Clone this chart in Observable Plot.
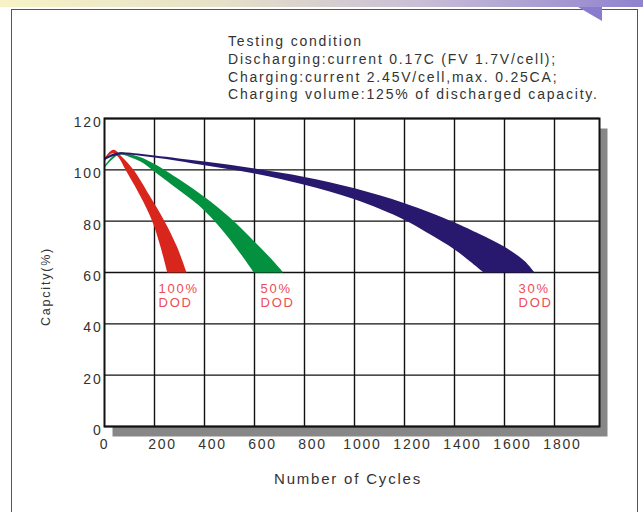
<!DOCTYPE html>
<html>
<head>
<meta charset="utf-8">
<script src="https://cdn.jsdelivr.net/npm/d3@7"></script>
<script src="https://cdn.jsdelivr.net/npm/@observablehq/plot@0.6"></script>
<style>
  html, body { margin: 0; padding: 0; background: #fff; }
  #wrap { position: relative; width: 643px; height: 512px; overflow: hidden; background: #fff; font-family: "Liberation Sans", Arial, sans-serif; }
  #topbar { position: absolute; left: 0; top: 0; width: 643px; height: 7px;
    background: linear-gradient(90deg, #f7f3c6 0%, #e6e0c8 35%, #c9bfd6 65%, #8f82cf 100%); }
  #tab { position: absolute; left: 578px; top: 7px; width: 24px; height: 14px; background: #8a7ccc;
    clip-path: polygon(0 0, 100% 0, 100% 100%); }
  #panel { position: absolute; left: 11px; top: 9px; width: 627px; height: 510px; border: 1.5px solid #555; box-sizing: border-box; }
  #title { position: absolute; left: 228px; top: 33px; font-size: 14px; line-height: 17.8px; color: #333; letter-spacing: 1.8px; white-space: pre; }
  #chart { position: absolute; left: 0; top: 0; }
</style>
</head>
<body>
<div id="wrap">
  <div id="topbar"></div>
  <div id="panel"></div>
  <div id="tab"></div>
  <div id="title"></div>
  <div id="chart"></div>
</div>
<script>
// ---- data ----
const titleLines = [
  "Testing condition",
  "Discharging:current 0.17C (FV 1.7V/cell);",
  "Charging:current 2.45V/cell,max. 0.25CA;",
  "Charging volume:125% of discharged capacity."
];
const xLabel = "Number of Cycles";
const yLabel = "Capcity(%)";
const xTicks = [0, 200, 400, 600, 800, 1000, 1200, 1400, 1600, 1800];
const yTicks = [0, 20, 40, 60, 80, 100, 120];

// Outlines of each band: upper edge going right, then lower edge coming back
// (the two points on the 60% line are listed twice to keep those corners sharp).
// 100% DOD (red)
const redX = [0, 15, 37, 70, 116, 180, 240, 290, 328, 328,   251, 251, 224, 191, 142, 84, 55, 35, 15, 0];
const redY = [104.2, 106.5, 107.8, 105, 100, 90, 80, 70, 60, 60,   60, 60, 70, 80, 90, 100, 105, 106.5, 105.5, 103];
// 50% DOD (green)
const greenX = [0, 30, 60, 100, 144, 200, 300, 400, 500, 600, 660, 715, 715,   597, 597, 500, 400, 300, 200, 144, 100, 60, 30, 0];
const greenY = [101.6, 105, 106.8, 106.2, 104.9, 102.3, 96.2, 89.4, 81.5, 72, 66, 60, 60,   60, 60, 73.1, 84.1, 91.9, 99.3, 103.2, 105, 106, 104, 100.8];
// 30% DOD (blue)
const blueX = [0, 40, 80, 200, 400, 600, 800, 1000, 1200, 1400, 1500, 1600, 1680, 1720, 1720,   1517, 1517, 1460, 1400, 1300, 1200, 1000, 800, 600, 400, 200, 80, 40, 0];
const blueY = [104.8, 106.5, 106.8, 105.6, 103.2, 100.5, 97.2, 92.8, 87.0, 79.5, 75, 70, 64.5, 60, 60,   60, 60, 64.5, 69, 75, 80.5, 88.5, 94.2, 98.6, 101.8, 104.8, 106, 105.5, 103.8];

const dodLabels = ["100%\nDOD", "50%\nDOD", "30%\nDOD"];
const dodX = [216, 624, 1656];
const dodY = [55.7, 55.7, 55.7];

// ---- build ----
document.getElementById("title").textContent = titleLines.join("\n");

const pts = (xs, ys) => xs.map((x, i) => ({x, y: ys[i]}));
const red = pts(redX, redY);
const green = pts(greenX, greenY);
const blue = pts(blueX, blueY);
const labels = dodLabels.map((t, i) => ({t, x: dodX[i], y: dodY[i]}));

const chart = Plot.plot({
  width: 643,
  height: 512,
  marginLeft: 104,
  marginRight: 44,
  marginTop: 118,
  marginBottom: 86,
  x: {domain: [0, 1980]},
  y: {domain: [0, 120]},
  style: {fontFamily: "'Liberation Sans', Arial, sans-serif", fontSize: "14px", color: "#333", background: "transparent", overflow: "visible", letterSpacing: "1.8px"},
  marks: [
    Plot.frame({fill: "#878787", dx: 8, dy: 10}),
    Plot.frame({fill: "#fff"}),
    Plot.ruleX(xTicks.slice(1), {stroke: "#111", strokeWidth: 1.4}),
    Plot.ruleY(yTicks, {stroke: "#111", strokeWidth: 1.4}),
    Plot.line(red, {x: "x", y: "y", fill: "#d9261c", stroke: "none", curve: "catmull-rom"}),
    Plot.line(green, {x: "x", y: "y", fill: "#04913f", stroke: "none", curve: "catmull-rom"}),
    Plot.line(blue, {x: "x", y: "y", fill: "#28196e", stroke: "none", curve: "catmull-rom"}),
    Plot.frame({stroke: "#111", strokeWidth: 2}),
    Plot.axisY(yTicks, {tickSize: 0, tickPadding: 2, dy: 4, label: null, fill: "#333", tickFormat: "d"}),
    Plot.axisX([xTicks[0]], {tickSize: 0, tickPadding: 13, label: null, fill: "#333", tickFormat: "d"}),
    Plot.axisX(xTicks.slice(1), {tickSize: 0, tickPadding: 13, dx: 8, label: null, fill: "#333", tickFormat: "d"}),
    Plot.text(labels, {x: "x", y: "y", text: "t", textAnchor: "start", lineAnchor: "top", fill: "#ee4b55", fontSize: 13, lineHeight: 1.05}),
    Plot.text([xLabel], {frameAnchor: "bottom", text: d => d, textAnchor: "middle", dx: -4, dy: 57, fontSize: 15, fill: "#333"}),
    Plot.text([yLabel], {frameAnchor: "left", text: d => d, textAnchor: "middle", rotate: -90, dx: -59, dy: 14, fontSize: 12.5, fill: "#333"})
  ]
});
document.getElementById("chart").appendChild(chart);
</script>
</body>
</html>
